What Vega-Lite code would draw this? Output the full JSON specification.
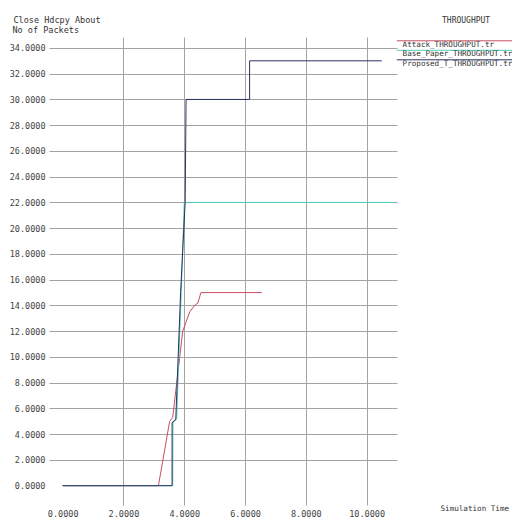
{
  "$schema": "https://vega.github.io/schema/vega-lite/v6.json",
  "width": 348,
  "height": 468,
  "autosize": {"type": "none"},
  "padding": {"left": 49, "top": 37, "right": 115, "bottom": 13},
  "background": "white",
  "title": {
    "text": "THROUGHPUT",
    "anchor": "start",
    "frame": "group",
    "dx": 393,
    "offset": -10,
    "font": "DejaVu Sans Mono",
    "fontSize": 8,
    "fontWeight": "normal",
    "color": "#333333"
  },
  "data": {
    "values": [
      {"file": "Attack_THROUGHPUT.tr", "i": 0, "t": 0, "pkts": 0},
      {"file": "Attack_THROUGHPUT.tr", "i": 1, "t": 3.15, "pkts": 0},
      {"file": "Attack_THROUGHPUT.tr", "i": 2, "t": 3.52, "pkts": 5},
      {"file": "Attack_THROUGHPUT.tr", "i": 3, "t": 3.62, "pkts": 5.3},
      {"file": "Attack_THROUGHPUT.tr", "i": 4, "t": 3.95, "pkts": 12},
      {"file": "Attack_THROUGHPUT.tr", "i": 5, "t": 4.18, "pkts": 13.5},
      {"file": "Attack_THROUGHPUT.tr", "i": 6, "t": 4.34, "pkts": 14},
      {"file": "Attack_THROUGHPUT.tr", "i": 7, "t": 4.45, "pkts": 14.2},
      {"file": "Attack_THROUGHPUT.tr", "i": 8, "t": 4.55, "pkts": 15},
      {"file": "Attack_THROUGHPUT.tr", "i": 9, "t": 6.55, "pkts": 15},
      {"file": "Base_Paper_THROUGHPUT.tr", "i": 0, "t": 0, "pkts": 0},
      {"file": "Base_Paper_THROUGHPUT.tr", "i": 1, "t": 3.62, "pkts": 0},
      {"file": "Base_Paper_THROUGHPUT.tr", "i": 2, "t": 3.63, "pkts": 5},
      {"file": "Base_Paper_THROUGHPUT.tr", "i": 3, "t": 3.75, "pkts": 5.2},
      {"file": "Base_Paper_THROUGHPUT.tr", "i": 4, "t": 3.9, "pkts": 15},
      {"file": "Base_Paper_THROUGHPUT.tr", "i": 5, "t": 4.0, "pkts": 22},
      {"file": "Base_Paper_THROUGHPUT.tr", "i": 6, "t": 10.9, "pkts": 22},
      {"file": "Proposed_T_THROUGHPUT.tr", "i": 0, "t": 0, "pkts": 0},
      {"file": "Proposed_T_THROUGHPUT.tr", "i": 1, "t": 3.6, "pkts": 0},
      {"file": "Proposed_T_THROUGHPUT.tr", "i": 2, "t": 3.6, "pkts": 4.9},
      {"file": "Proposed_T_THROUGHPUT.tr", "i": 3, "t": 3.72, "pkts": 5.1},
      {"file": "Proposed_T_THROUGHPUT.tr", "i": 4, "t": 3.88, "pkts": 15},
      {"file": "Proposed_T_THROUGHPUT.tr", "i": 5, "t": 4.03, "pkts": 22},
      {"file": "Proposed_T_THROUGHPUT.tr", "i": 6, "t": 4.06, "pkts": 30},
      {"file": "Proposed_T_THROUGHPUT.tr", "i": 7, "t": 6.15, "pkts": 30},
      {"file": "Proposed_T_THROUGHPUT.tr", "i": 8, "t": 6.15, "pkts": 33},
      {"file": "Proposed_T_THROUGHPUT.tr", "i": 9, "t": 10.5, "pkts": 33}
    ]
  },
  "layer": [
    {
      "mark": {"type": "line", "strokeWidth": 1, "clip": false},
      "encoding": {
        "x": {
          "field": "t",
          "type": "quantitative",
          "scale": {"domain": [-0.45, 11.0], "nice": false, "zero": false},
          "axis": {
            "orient": "bottom",
            "values": [0, 2, 4, 6, 8, 10],
            "format": ".4f",
            "title": "Simulation Time",
            "titleAnchor": null,
            "titleAlign": "left",
            "titleBaseline": "middle",
            "titleFontSize": 7.6,
            "titleX": 391,
            "titleY": 3,
            "gridOpacity": {"condition": {"test": "datum.value === 0", "value": 0}, "value": 1}
          }
        },
        "y": {
          "field": "pkts",
          "type": "quantitative",
          "scale": {"domain": [-1.5, 34.85], "nice": false, "zero": false},
          "axis": {
            "values": [0, 2, 4, 6, 8, 10, 12, 14, 16, 18, 20, 22, 24, 26, 28, 30, 32, 34],
            "format": ".4f",
            "title": "No of Packets",
            "titleAngle": 0,
            "titleAnchor": null,
            "titleAlign": "left",
            "titleBaseline": "middle",
            "titleX": -37,
            "titleY": -8,
            "gridOpacity": {"condition": {"test": "datum.value === 0", "value": 0}, "value": 1}
          }
        },
        "color": {
          "field": "file",
          "type": "nominal",
          "scale": {
            "domain": ["Attack_THROUGHPUT.tr", "Base_Paper_THROUGHPUT.tr", "Proposed_T_THROUGHPUT.tr"],
            "range": ["#c8505f", "#4fcfbd", "#2c3263"]
          },
          "legend": {
            "orient": "none",
            "legendX": 346,
            "legendY": 4,
            "title": null,
            "symbolType": "M -1 -2 H 60",
            "symbolSize": 16,
            "symbolStrokeWidth": 1,
            "symbolFillColor": "transparent",
            "labelFont": "DejaVu Sans Mono",
            "labelFontSize": 7.6,
            "labelColor": "#333333",
            "labelLimit": 400,
            "labelOffset": 0,
            "rowPadding": -1.5,
            "padding": 0
          }
        },
        "order": {"field": "i", "type": "quantitative"}
      }
    },
    {
      "mark": {"type": "rule", "opacity": 0},
      "encoding": {
        "x": {
          "field": "t",
          "type": "quantitative",
          "axis": {
            "orient": "top",
            "labels": false,
            "ticks": false,
            "domain": false,
            "grid": false,
            "title": "Close  Hdcpy  About",
            "titleAnchor": null,
            "titleAlign": "left",
            "titleBaseline": "middle",
            "titleX": -36,
            "titleY": -18
          }
        }
      }
    }
  ],
  "resolve": {"axis": {"x": "independent"}},
  "config": {
    "view": {"stroke": null},
    "axis": {
      "grid": true,
      "gridColor": "#a3a3a3",
      "gridWidth": 1,
      "ticks": false,
      "domain": false,
      "labelFont": "DejaVu Sans Mono",
      "labelFontSize": 8.5,
      "labelColor": "#444444",
      "labelPadding": 4,
      "titleFont": "DejaVu Sans Mono",
      "titleFontSize": 8.5,
      "titleFontWeight": "normal",
      "titleColor": "#333333"
    }
  }
}
